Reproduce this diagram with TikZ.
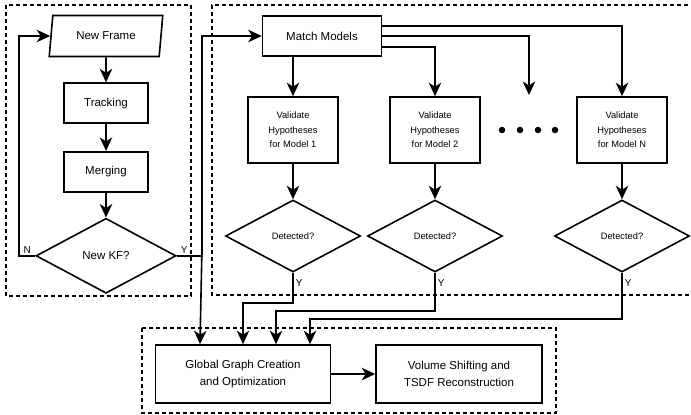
\documentclass[tikz,border=0pt]{standalone}
\usepackage{fontspec}
\setsansfont{Liberation Sans}
\usepackage{tikz}
\usetikzlibrary{positioning,arrows.meta}
\usetikzlibrary{shapes.geometric}
\tikzstyle{proc}=[draw, line width=1.6pt, rectangle, align=center, font=\sffamily\fontsize{11.5}{17}\selectfont, inner sep=0pt]
\tikzstyle{io}=[draw, line width=1.6pt, trapezium, trapezium left angle=76, trapezium right angle=104, trapezium stretches=true, font=\sffamily\fontsize{11.5}{14}\selectfont, minimum width=114pt, minimum height=41pt, inner sep=0pt]
\tikzstyle{hyp}=[draw, line width=1.6pt, rectangle, align=center, font=\sffamily\fontsize{9.3}{14.5}\selectfont, minimum width=90pt, minimum height=66pt, inner sep=0pt]
\tikzstyle{dec}=[draw, line width=1.6pt, diamond, font=\sffamily\fontsize{9.3}{11}\selectfont, inner sep=0pt]
\tikzstyle{group}=[line width=1.5pt, dash pattern=on 4pt off 3pt]
\tikzstyle{yn}=[font=\sffamily\fontsize{10}{11}\selectfont, inner sep=2pt]
\tikzstyle{link}=[->, line width=1.6pt]

\begin{document}
\begin{tikzpicture}[x=1pt, y=-1pt, >={Stealth[length=13.5pt,width=12.5pt,inset=4pt]}]
\useasboundingbox (0,0) rectangle (691,415);

\draw[group] (6,5) rectangle (191,296);
\draw[group] (695,5) -- (212,5) -- (212,295) -- (695,295);
\draw[group] (142,328) rectangle (556,413);

\node[io] (frame) at (106,36) {New Frame};
\node[proc, minimum width=84pt, minimum height=40pt, below=25pt of frame] (track) {Tracking};
\node[proc, minimum width=84pt, minimum height=40pt, below=27pt of track] (merge) {Merging};
\node[dec, minimum width=140pt, minimum height=75pt, below=25pt of merge, font=\sffamily\fontsize{11.5}{14}\selectfont] (kf) {New KF?};

\node[proc, minimum width=119pt, minimum height=40pt] (match) at (322,36) {Match Models};
\node[hyp] (hyp1) at (293,130) {Validate\\Hypotheses\\for Model 1};
\node[hyp] (hyp2) at (435,130) {Validate\\Hypotheses\\for Model 2};
\node[hyp] (hypN) at (622,130) {Validate\\Hypotheses\\for Model N};
\foreach \i/\x in {1/502,2/520,3/538,4/555}
  \node[circle, fill, inner sep=0pt, minimum size=6.5pt] (dot\i) at (\x,130) {};
\coordinate (dotsin) at (529,95);

\node[dec, minimum width=135pt, minimum height=72pt] (det1) at (293,236) {Detected?};
\node[dec, minimum width=135pt, minimum height=72pt] (det2) at (435,236) {Detected?};
\node[dec, minimum width=135pt, minimum height=72pt] (detN) at (622,236) {Detected?};

\node[proc, minimum width=175pt, minimum height=58pt] (global) at (243,374) {Global Graph Creation\\and Optimization};
\node[proc, minimum width=166pt, minimum height=58pt] (volume) at (459,374) {Volume Shifting and\\TSDF Reconstruction};

\draw[link] (frame) -- (track);
\draw[link] (track) -- (merge);
\draw[link] (merge) -- (kf);
\draw[link] (kf.west) -- node[yn, above] {N} ++(-16,0) |- (frame.west);
\draw[link] (kf.east) -- node[yn, above, pos=0.3] {Y} ++(25,0) coordinate (ysplit) |- (match.west);
\draw[link] (ysplit) -- ([xshift=-43pt]global.north);

\draw[link] (match.south -| hyp1.north) -- (hyp1.north);
\draw[link] ([yshift=-11pt]match.east) -| (hyp2.north);
\draw[link] (match.east) -| (dotsin);
\draw[link] ([yshift=10pt]match.east) -| (hypN.north);

\draw[link] (hyp1) -- (det1);
\draw[link] (hyp2) -- (det2);
\draw[link] (hypN) -- (detN);

\draw[link] (det1.south) -- node[yn, right, pos=0.35] {Y} ++(0,30) -| (global.north);
\draw[link] (det2.south) -- node[yn, right, pos=0.28] {Y} ++(0,38) -| ([xshift=33pt]global.north);
\draw[link] (detN.south) -- node[yn, right, pos=0.23] {Y} ++(0,46) -| ([xshift=67pt]global.north);

\draw[link] (global) -- (volume);

\end{tikzpicture}
\end{document}
